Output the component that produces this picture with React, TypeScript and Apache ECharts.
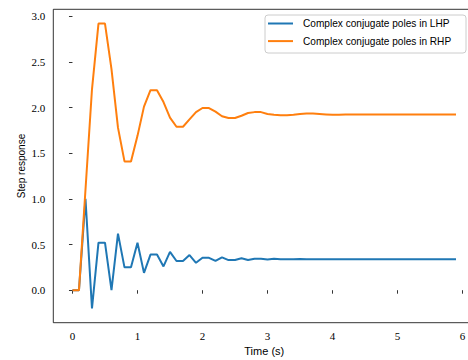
import React, { useEffect, useRef } from "react";
import * as echarts from "echarts";

const timeValues = [
  0.0, 0.1, 0.2, 0.3, 0.4, 0.5, 0.6, 0.7, 0.8, 0.9,
  1.0, 1.1, 1.2, 1.3, 1.4, 1.5, 1.6, 1.7, 1.8, 1.9,
  2.0, 2.1, 2.2, 2.3, 2.4, 2.5, 2.6, 2.7, 2.8, 2.9,
  3.0, 3.1, 3.2, 3.3, 3.4, 3.5, 3.6, 3.7, 3.8, 3.9,
  4.0, 4.1, 4.2, 4.3, 4.4, 4.5, 4.6, 4.7, 4.8, 4.9,
  5.0, 5.1, 5.2, 5.3, 5.4, 5.5, 5.6, 5.7, 5.8, 5.9,
];

const lhpValues = [
  0, 0, 1.0, -0.2, 0.52, 0.52, 0.0, 0.62, 0.25, 0.25,
  0.52, 0.19, 0.39, 0.39, 0.26, 0.42, 0.32, 0.32, 0.385, 0.3,
  0.355, 0.355, 0.32, 0.36, 0.33, 0.33, 0.35, 0.33, 0.345, 0.345,
  0.335, 0.345, 0.34, 0.34, 0.338, 0.342, 0.34, 0.34, 0.34, 0.34,
  0.34, 0.34, 0.34, 0.34, 0.34, 0.34, 0.34, 0.34, 0.34, 0.34,
  0.34, 0.34, 0.34, 0.34, 0.34, 0.34, 0.34, 0.34, 0.34, 0.34,
];

const rhpValues = [
  0, 0, 1.1, 2.2, 2.92, 2.92, 2.42, 1.78, 1.41, 1.41,
  1.69, 2.01, 2.19, 2.19, 2.06, 1.89, 1.79, 1.79, 1.87, 1.95,
  1.995, 1.995, 1.955, 1.905, 1.885, 1.885, 1.91, 1.94, 1.95, 1.95,
  1.93, 1.92, 1.915, 1.915, 1.92, 1.93, 1.935, 1.935, 1.93, 1.925,
  1.92, 1.92, 1.925, 1.925, 1.925, 1.925, 1.925, 1.925, 1.925, 1.925,
  1.925, 1.925, 1.925, 1.925, 1.925, 1.925, 1.925, 1.925, 1.925, 1.925,
];

const seriesNames = ["Complex conjugate poles in LHP", "Complex conjugate poles in RHP"];
const xTicks = [0, 1, 2, 3, 4, 5, 6];
const yTicks = [0.0, 0.5, 1.0, 1.5, 2.0, 2.5, 3.0];

export default function App() {
  const ref = useRef<HTMLDivElement>(null);
  useEffect(() => {
    document.body.style.margin = "0";
    if (!ref.current) return;
    const chart = echarts.init(ref.current, null, { renderer: "svg" });
    const serif = "'Liberation Serif', 'DejaVu Serif', serif";
    const sans = "'Liberation Sans', Arial, sans-serif";
    chart.setOption({
      animation: false,
      backgroundColor: "#fff",
      grid: {
        left: 53.3,
        top: 9.3,
        right: -7.2,
        bottom: 37.3,
        containLabel: false,
        outerBoundsMode: "none",
        show: true,
        borderColor: "#000",
        borderWidth: 0.8,
        backgroundColor: "transparent",
      },
      graphic: [
        {
          type: "rect",
          shape: { x: 265, y: 15, width: 201, height: 38, r: 3 },
          style: { fill: "rgba(255,255,255,0.8)", stroke: "#cccccc", lineWidth: 1 },
          z: 5,
        },
      ],
      legend: {
        orient: "vertical",
        left: 268,
        top: 16.5,
        padding: 0,
        icon: "rect",
        itemWidth: 25,
        itemHeight: 2,
        itemGap: 3.6,
        data: seriesNames,
        z: 6,
        textStyle: {
          fontFamily: sans,
          fontSize: 10.1,
          color: "#000",
          lineHeight: 14,
          padding: [0, 0, 0, 5],
        },
      },
      xAxis: {
        type: "value",
        min: -0.295,
        max: 6.195,
        name: "Time (s)",
        nameLocation: "middle",
        nameGap: 23,
        nameMoveOverlap: false,
        nameTextStyle: { fontFamily: sans, fontSize: 11, color: "#000" },
        splitLine: { show: false },
        axisLine: { show: false },
        axisTick: {
          show: true,
          length: 3.5,
          lineStyle: { color: "#000", width: 0.8 },
          customValues: xTicks,
        },
        axisLabel: {
          fontFamily: serif,
          fontSize: 11,
          color: "#000",
          margin: 8,
          customValues: xTicks,
          formatter: (v: number) => String(v),
        },
      },
      yAxis: {
        type: "value",
        min: -0.356,
        max: 3.076,
        name: "Step response",
        nameLocation: "middle",
        nameGap: 27,
        nameMoveOverlap: false,
        nameRotate: 90,
        nameTextStyle: { fontFamily: sans, fontSize: 10, color: "#000" },
        splitLine: { show: false },
        axisLine: { show: false },
        axisTick: {
          show: true,
          length: 3.5,
          lineStyle: { color: "#000", width: 0.8 },
          customValues: yTicks,
        },
        axisLabel: {
          fontFamily: serif,
          fontSize: 11,
          color: "#000",
          margin: 8,
          customValues: yTicks,
          formatter: (v: number) => v.toFixed(1),
        },
      },
      series: [
        {
          name: seriesNames[0],
          type: "line",
          symbol: "none",
          data: timeValues.map((t, i) => [t, lhpValues[i]]),
          lineStyle: { color: "#1f77b4", width: 2 },
          itemStyle: { color: "#1f77b4" },
        },
        {
          name: seriesNames[1],
          type: "line",
          symbol: "none",
          data: timeValues.map((t, i) => [t, rhpValues[i]]),
          lineStyle: { color: "#ff7f0e", width: 2 },
          itemStyle: { color: "#ff7f0e" },
        },
      ],
    });
    return () => chart.dispose();
  }, []);
  return <div ref={ref} style={{ width: 468, height: 360 }} />;
}
